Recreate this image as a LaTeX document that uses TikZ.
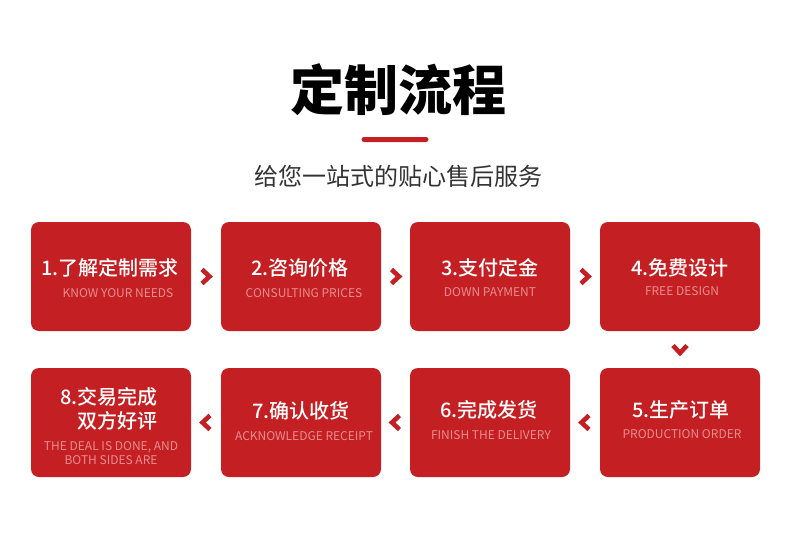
\documentclass[tikz,border=0pt]{standalone}
\usepackage{fontspec}
\setmainfont{Noto Sans CJK SC}
\newfontfamily\cjkm{Noto Sans CJK SC Medium}
\usetikzlibrary{calc}
\definecolor{boxred}{HTML}{C42024}
\definecolor{entext}{HTML}{EA8C8E}
\definecolor{subgray}{HTML}{333333}
\tikzset{
  stepbox/.style={fill=boxred, rounded corners=8pt, minimum width=160pt, minimum height=109pt, inner sep=0pt},
  cntitle/.style={text=white, font=\cjkm\fontsize{20}{22}\selectfont, inner sep=0pt, align=center},
  entitle/.style={text=entext, font=\fontsize{12}{13}\selectfont, inner sep=0pt, align=center},
  chev/.style={draw=boxred, line width=4.6pt, miter limit=10}
}
\begin{document}
\begin{tikzpicture}[x=1pt,y=-1pt]
\useasboundingbox (0,0) rectangle (790,544);
% header
\node[font=\fontsize{54}{60}\selectfont\bfseries, inner sep=0pt] (title) at (398,90) {定制流程};
\node[fill=boxred, minimum width=67pt, minimum height=5pt, rounded corners=2.5pt, inner sep=0pt] (bar) at (395,139.5) {};
\node[text=subgray, font=\fontsize{24}{26}\selectfont, inner sep=0pt] (sub) at (398,176) {给您一站式的贴心售后服务};
% boxes
\node[stepbox] (b1) at (111,276.5) {};
\node[stepbox] (b2) at (301,276.5) {};
\node[stepbox] (b3) at (490,276.5) {};
\node[stepbox] (b4) at (680,276.5) {};
\node[stepbox] (b5) at (680,422.5) {};
\node[stepbox] (b6) at (490,422.5) {};
\node[stepbox] (b7) at (301,422.5) {};
\node[stepbox] (b8) at (111,422.5) {};
% texts
\node[cntitle] (t1) at (110,268) {1.了解定制需求};
\node[entitle] (e1) at (118,293) {KNOW YOUR NEEDS};
\node[cntitle] (t2) at (300,268) {2.咨询价格};
\node[entitle] (e2) at (304,293) {CONSULTING PRICES};
\node[cntitle] (t3) at (490,268) {3.支付定金};
\node[entitle] (e3) at (490,292) {DOWN PAYMENT};
\node[cntitle] (t4) at (680,268) {4.免费设计};
\node[entitle] (e4) at (682,291) {FREE DESIGN};
\node[cntitle] (t5) at (681,410) {5.生产订单};
\node[entitle] (e5) at (682,434) {PRODUCTION ORDER};
\node[cntitle] (t6) at (489,410) {6.完成发货};
\node[entitle] (e6) at (491,435) {FINISH THE DELIVERY};
\node[cntitle] (t7) at (301,411) {7.确认收货};
\node[entitle] (e7) at (304,436) {ACKNOWLEDGE RECEIPT};
\node[cntitle] (t8a) at (109,397) {8.交易完成};
\node[cntitle] (t8b) at (117,421) {双方好评};
\node[entitle] (e8a) at (111,447) {THE DEAL IS DONE, AND};
\node[entitle] (e8b) at (111,460) {BOTH SIDES ARE};
% chevrons
\coordinate (c12) at ($(b1.east)!0.5!(b2.west)$);
\coordinate (c23) at ($(b2.east)!0.5!(b3.west)$);
\coordinate (c34) at ($(b3.east)!0.5!(b4.west)$);
\coordinate (c45) at ($(b4.south)!0.5!(b5.north)$);
\coordinate (c56) at ($(b5.west)!0.5!(b6.east)$);
\coordinate (c67) at ($(b6.west)!0.5!(b7.east)$);
\coordinate (c78) at ($(b7.west)!0.5!(b8.east)$);
\foreach \c in {c12,c23,c34} {
  \draw[chev] ($(\c)+(-4,-7)$) -- ($(\c)+(3.5,0)$) -- ($(\c)+(-4,7)$);
}
\foreach \c in {c56,c67,c78} {
  \draw[chev] ($(\c)+(4,-7)$) -- ($(\c)+(-3.5,0)$) -- ($(\c)+(4,7)$);
}
\draw[chev] ($(c45)+(-7,-4)$) -- ($(c45)+(0,3.5)$) -- ($(c45)+(7,-4)$);
\end{tikzpicture}
\end{document}
